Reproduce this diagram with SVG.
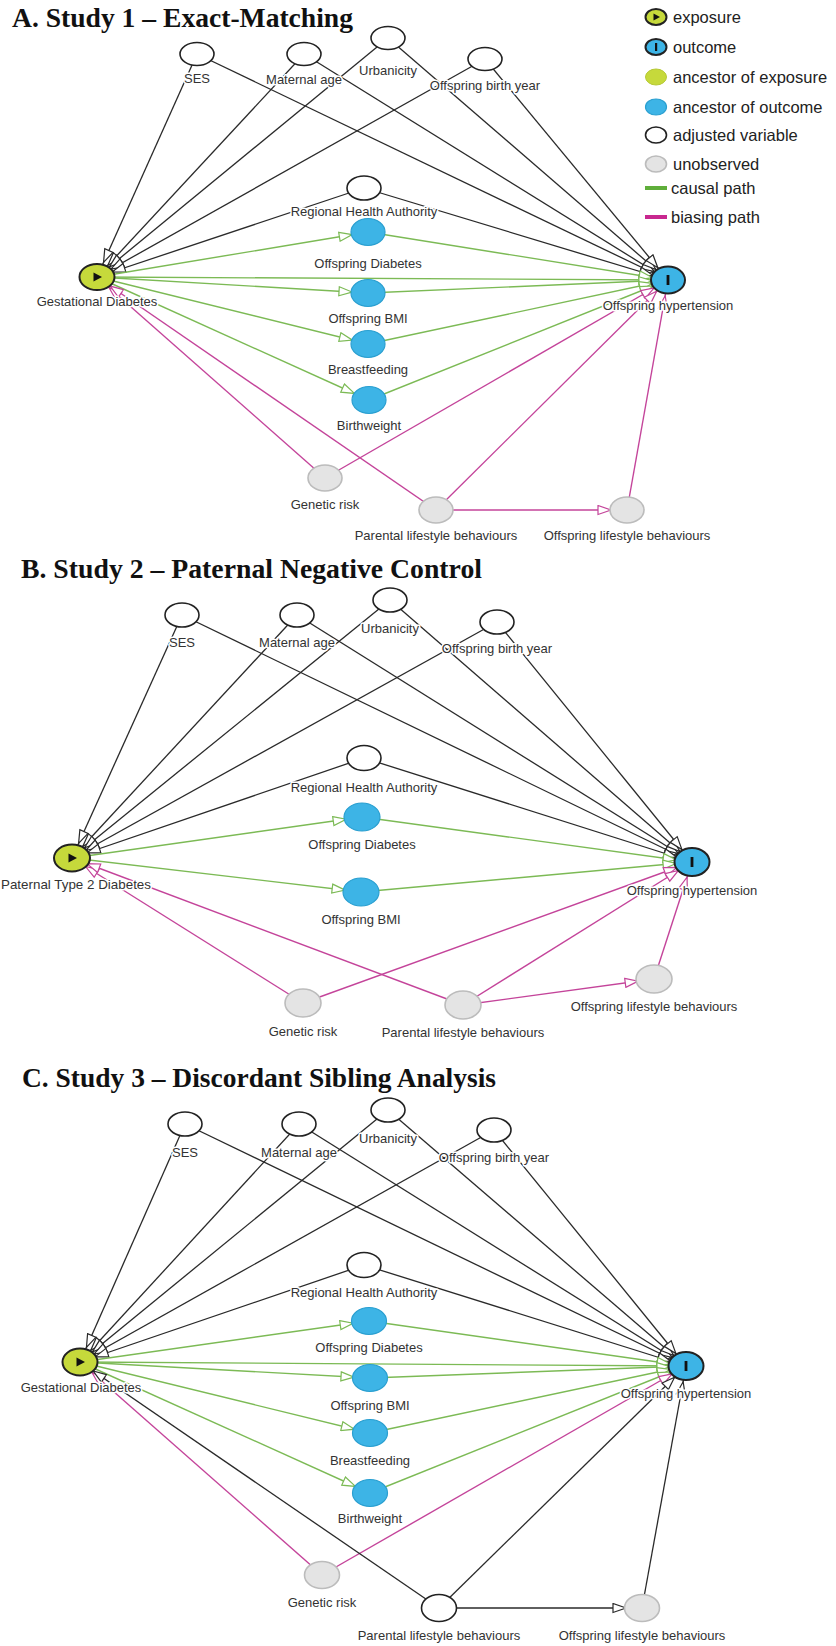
<svg xmlns="http://www.w3.org/2000/svg" width="836" height="1646" viewBox="0 0 836 1646">
<style>
.t{font-family:"Liberation Serif","Times New Roman",serif;font-weight:bold;font-size:27px;fill:#111}
.l{font-family:"Liberation Sans",Arial,sans-serif;font-size:13px;fill:#333;text-anchor:middle;stroke:#fff;stroke-width:3;paint-order:stroke;stroke-linejoin:round}
.lg{font-family:"Liberation Sans",Arial,sans-serif;font-size:16.5px;fill:#222}
.e{stroke:#2a2a2a;stroke-width:1.3;fill:none;marker-end:url(#ab)}
.c{stroke:#7cba55;stroke-width:1.4;fill:none;marker-end:url(#ag)}
.b{stroke:#c4449a;stroke-width:1.4;fill:none;marker-end:url(#ap)}
.adj{fill:#fff;stroke:#222;stroke-width:1.6}
.anc{fill:#3db4e6;stroke:#2a9fd0;stroke-width:1.2}
.uno{fill:#e4e4e4;stroke:#bcbcbc;stroke-width:1.6}
.exp{fill:#c6d93b;stroke:#222;stroke-width:2}
.out{fill:#3db4e6;stroke:#222;stroke-width:2}
</style>
<defs>
<marker id="ab" markerUnits="userSpaceOnUse" markerWidth="32" markerHeight="11" refX="30" refY="5.5" orient="auto"><path d="M1,1 L14,5.5 L1,10 Z" fill="#fff" stroke="#2a2a2a" stroke-width="1.2"/></marker>
<marker id="ag" markerUnits="userSpaceOnUse" markerWidth="32" markerHeight="11" refX="30" refY="5.5" orient="auto"><path d="M1,1 L14,5.5 L1,10 Z" fill="#fff" stroke="#7cba55" stroke-width="1.2"/></marker>
<marker id="ap" markerUnits="userSpaceOnUse" markerWidth="32" markerHeight="11" refX="30" refY="5.5" orient="auto"><path d="M1,1 L14,5.5 L1,10 Z" fill="#fff" stroke="#c4449a" stroke-width="1.2"/></marker>
</defs>
<rect width="836" height="1646" fill="#fff"/>

<!-- Titles -->
<text class="t" x="12" y="27" textLength="341" lengthAdjust="spacingAndGlyphs">A. Study 1 – Exact-Matching</text>
<text class="t" x="21" y="578" textLength="461" lengthAdjust="spacingAndGlyphs">B. Study 2 – Paternal Negative Control</text>
<text class="t" x="22" y="1087" textLength="474" lengthAdjust="spacingAndGlyphs">C. Study 3 – Discordant Sibling Analysis</text>

<!-- Legend -->
<g id="legend">
<ellipse cx="656" cy="17" rx="10.5" ry="8" class="exp" stroke-width="1.6"/><path d="M653.5,13.5 L660,17 L653.5,20.5 Z" fill="#111"/>
<text class="lg" x="673" y="23">exposure</text>
<ellipse cx="656" cy="47" rx="10.5" ry="8" class="out" stroke-width="1.6"/><rect x="655" y="43" width="2.2" height="8" fill="#111"/>
<text class="lg" x="673" y="53">outcome</text>
<ellipse cx="656" cy="77" rx="10.5" ry="8" fill="#c6d93b" stroke="#b6c936" stroke-width="1"/>
<text class="lg" x="673" y="83">ancestor of exposure</text>
<ellipse cx="656" cy="107" rx="10.5" ry="8" class="anc"/>
<text class="lg" x="673" y="113">ancestor of outcome</text>
<ellipse cx="656" cy="135" rx="10.5" ry="8" class="adj" stroke-width="1.3"/>
<text class="lg" x="673" y="141">adjusted variable</text>
<ellipse cx="656" cy="164" rx="10.5" ry="8" class="uno" stroke-width="1.2"/>
<text class="lg" x="673" y="170">unobserved</text>
<line x1="645" y1="188" x2="667" y2="188" stroke="#5fae3a" stroke-width="4"/>
<text class="lg" x="671" y="194">causal path</text>
<line x1="645" y1="217" x2="667" y2="217" stroke="#c8288f" stroke-width="4"/>
<text class="lg" x="671" y="223">biasing path</text>
</g>

<!-- ================= Connectors ================= -->
<g id="connectors">
<!-- Panel A -->
<line class="e" x1="197" y1="54" x2="97" y2="277"/>
<line class="e" x1="197" y1="54" x2="668" y2="280"/>
<line class="e" x1="304" y1="54" x2="97" y2="277"/>
<line class="e" x1="304" y1="54" x2="668" y2="280"/>
<line class="e" x1="388" y1="38" x2="97" y2="277"/>
<line class="e" x1="388" y1="38" x2="668" y2="280"/>
<line class="e" x1="485" y1="59" x2="97" y2="277"/>
<line class="e" x1="485" y1="59" x2="668" y2="280"/>
<line class="e" x1="364" y1="188" x2="97" y2="277"/>
<line class="e" x1="364" y1="188" x2="668" y2="280"/>
<line class="c" x1="97" y1="277" x2="368" y2="232"/>
<line class="c" x1="97" y1="277" x2="368" y2="293"/>
<line class="c" x1="97" y1="277" x2="368" y2="344"/>
<line class="c" x1="97" y1="277" x2="369" y2="400"/>
<line class="c" x1="97" y1="277" x2="668" y2="280"/>
<line class="c" x1="368" y1="232" x2="668" y2="280"/>
<line class="c" x1="368" y1="293" x2="668" y2="280"/>
<line class="c" x1="368" y1="344" x2="668" y2="280"/>
<line class="c" x1="369" y1="400" x2="668" y2="280"/>
<line class="b" x1="325" y1="478" x2="97" y2="277"/>
<line class="b" x1="325" y1="478" x2="668" y2="280"/>
<line class="b" x1="436" y1="510" x2="97" y2="277"/>
<line class="b" x1="436" y1="510" x2="668" y2="280"/>
<line class="b" x1="436" y1="510" x2="627" y2="510"/>
<line class="b" x1="627" y1="510" x2="668" y2="280"/>

<!-- Panel B -->
<line class="e" x1="182" y1="615" x2="72" y2="858"/>
<line class="e" x1="182" y1="615" x2="692" y2="862"/>
<line class="e" x1="297" y1="615" x2="72" y2="858"/>
<line class="e" x1="297" y1="615" x2="692" y2="862"/>
<line class="e" x1="390" y1="600" x2="72" y2="858"/>
<line class="e" x1="390" y1="600" x2="692" y2="862"/>
<line class="e" x1="497" y1="622" x2="72" y2="858"/>
<line class="e" x1="497" y1="622" x2="692" y2="862"/>
<line class="e" x1="364" y1="758" x2="72" y2="858"/>
<line class="e" x1="364" y1="758" x2="692" y2="862"/>
<line class="c" x1="72" y1="858" x2="362" y2="817"/>
<line class="c" x1="72" y1="858" x2="361" y2="892"/>
<line class="c" x1="362" y1="817" x2="692" y2="862"/>
<line class="c" x1="361" y1="892" x2="692" y2="862"/>
<line class="b" x1="303" y1="1003" x2="72" y2="858"/>
<line class="b" x1="303" y1="1003" x2="692" y2="862"/>
<line class="b" x1="463" y1="1005" x2="72" y2="858"/>
<line class="b" x1="463" y1="1005" x2="692" y2="862"/>
<line class="b" x1="463" y1="1005" x2="654" y2="979"/>
<line class="b" x1="654" y1="979" x2="692" y2="862"/>

<!-- Panel C -->
<line class="e" x1="185" y1="1124" x2="80" y2="1362"/>
<line class="e" x1="185" y1="1124" x2="686" y2="1366"/>
<line class="e" x1="299" y1="1124" x2="80" y2="1362"/>
<line class="e" x1="299" y1="1124" x2="686" y2="1366"/>
<line class="e" x1="388" y1="1110" x2="80" y2="1362"/>
<line class="e" x1="388" y1="1110" x2="686" y2="1366"/>
<line class="e" x1="494" y1="1130" x2="80" y2="1362"/>
<line class="e" x1="494" y1="1130" x2="686" y2="1366"/>
<line class="e" x1="364" y1="1265" x2="80" y2="1362"/>
<line class="e" x1="364" y1="1265" x2="686" y2="1366"/>
<line class="c" x1="80" y1="1362" x2="369" y2="1321"/>
<line class="c" x1="80" y1="1362" x2="370" y2="1378"/>
<line class="c" x1="80" y1="1362" x2="370" y2="1433"/>
<line class="c" x1="80" y1="1362" x2="370" y2="1493"/>
<line class="c" x1="80" y1="1362" x2="686" y2="1366"/>
<line class="c" x1="369" y1="1321" x2="686" y2="1366"/>
<line class="c" x1="370" y1="1378" x2="686" y2="1366"/>
<line class="c" x1="370" y1="1433" x2="686" y2="1366"/>
<line class="c" x1="370" y1="1493" x2="686" y2="1366"/>
<line class="b" x1="322" y1="1575" x2="80" y2="1362"/>
<line class="b" x1="322" y1="1575" x2="686" y2="1366"/>
<line class="e" x1="439" y1="1608" x2="80" y2="1362"/>
<line class="e" x1="439" y1="1608" x2="686" y2="1366"/>
<line class="e" x1="439" y1="1608" x2="642" y2="1608"/>
<line class="e" x1="642" y1="1608" x2="686" y2="1366"/>
</g>

<!-- ================= Panel A nodes ================= -->
<g id="a-ses"><ellipse class="adj" cx="197" cy="54" rx="17" ry="11.5"/><text class="l" x="197" y="82.5">SES</text></g>
<g id="a-mage"><ellipse class="adj" cx="304" cy="54" rx="17" ry="11.5"/><text class="l" x="304" y="83.5">Maternal age</text></g>
<g id="a-urb"><ellipse class="adj" cx="388" cy="38" rx="17" ry="11.5"/><text class="l" x="388" y="74.5">Urbanicity</text></g>
<g id="a-oby"><ellipse class="adj" cx="485" cy="59" rx="17" ry="11.5"/><text class="l" x="485" y="89.5">Offspring birth year</text></g>
<g id="a-rha"><ellipse class="adj" cx="364" cy="188" rx="17" ry="12"/><text class="l" x="364" y="215.5">Regional Health Authority</text></g>
<g id="a-od"><ellipse class="anc" cx="368" cy="232" rx="17" ry="13.5"/><text class="l" x="368" y="267.5">Offspring Diabetes</text></g>
<g id="a-obmi"><ellipse class="anc" cx="368" cy="293" rx="17" ry="13.5"/><text class="l" x="368" y="322.5">Offspring BMI</text></g>
<g id="a-bf"><ellipse class="anc" cx="368" cy="344" rx="17" ry="13.5"/><text class="l" x="368" y="373.5">Breastfeeding</text></g>
<g id="a-bw"><ellipse class="anc" cx="369" cy="400" rx="17" ry="13.5"/><text class="l" x="369" y="429.5">Birthweight</text></g>
<g id="a-gr"><ellipse class="uno" cx="325" cy="478" rx="17" ry="13"/><text class="l" x="325" y="508.5">Genetic risk</text></g>
<g id="a-pl"><ellipse class="uno" cx="436" cy="510" rx="17" ry="13"/><text class="l" x="436" y="539.5">Parental lifestyle behaviours</text></g>
<g id="a-ol"><ellipse class="uno" cx="627" cy="510" rx="17" ry="13"/><text class="l" x="627" y="539.5">Offspring lifestyle behaviours</text></g>
<g id="a-exp"><ellipse class="exp" cx="97" cy="277" rx="17.5" ry="13"/><path d="M93.5,272.5 L102,277 L93.5,281.5 Z" fill="#111"/><text class="l" x="97" y="305.5">Gestational Diabetes</text></g>
<g id="a-out"><ellipse class="out" cx="668" cy="280" rx="17" ry="13.5"/><rect x="666.6" y="275" width="2.8" height="10" fill="#111"/><text class="l" x="668" y="309.5">Offspring hypertension</text></g>

<!-- ================= Panel B nodes ================= -->
<g id="b-ses"><ellipse class="adj" cx="182" cy="615" rx="17" ry="12"/><text class="l" x="182" y="646.5">SES</text></g>
<g id="b-mage"><ellipse class="adj" cx="297" cy="615" rx="17" ry="12"/><text class="l" x="297" y="646.5">Maternal age</text></g>
<g id="b-urb"><ellipse class="adj" cx="390" cy="600" rx="17" ry="12"/><text class="l" x="390" y="632.5">Urbanicity</text></g>
<g id="b-oby"><ellipse class="adj" cx="497" cy="622" rx="17" ry="12"/><text class="l" x="497" y="652.5">Offspring birth year</text></g>
<g id="b-rha"><ellipse class="adj" cx="364" cy="758" rx="17" ry="12.5"/><text class="l" x="364" y="791.5">Regional Health Authority</text></g>
<g id="b-od"><ellipse class="anc" cx="362" cy="817" rx="18" ry="14"/><text class="l" x="362" y="848.5">Offspring Diabetes</text></g>
<g id="b-obmi"><ellipse class="anc" cx="361" cy="892" rx="18" ry="14"/><text class="l" x="361" y="923.5">Offspring BMI</text></g>
<g id="b-gr"><ellipse class="uno" cx="303" cy="1003" rx="18" ry="14"/><text class="l" x="303" y="1035.5">Genetic risk</text></g>
<g id="b-pl"><ellipse class="uno" cx="463" cy="1005" rx="18" ry="14"/><text class="l" x="463" y="1036.5">Parental lifestyle behaviours</text></g>
<g id="b-ol"><ellipse class="uno" cx="654" cy="979" rx="18" ry="14"/><text class="l" x="654" y="1010.5">Offspring lifestyle behaviours</text></g>
<g id="b-exp"><ellipse class="exp" cx="72" cy="858" rx="18" ry="13.5"/><path d="M68.5,853.5 L77,858 L68.5,862.5 Z" fill="#111"/><text class="l" x="1" y="888.5" style="text-anchor:start" textLength="150" lengthAdjust="spacingAndGlyphs">Paternal Type 2 Diabetes</text></g>
<g id="b-out"><ellipse class="out" cx="692" cy="862" rx="17.5" ry="14"/><rect x="690.6" y="857" width="2.8" height="10" fill="#111"/><text class="l" x="692" y="894.5">Offspring hypertension</text></g>

<!-- ================= Panel C nodes ================= -->
<g id="c-ses"><ellipse class="adj" cx="185" cy="1124" rx="17" ry="12"/><text class="l" x="185" y="1156.5">SES</text></g>
<g id="c-mage"><ellipse class="adj" cx="299" cy="1124" rx="17" ry="12"/><text class="l" x="299" y="1156.5">Maternal age</text></g>
<g id="c-urb"><ellipse class="adj" cx="388" cy="1110" rx="17" ry="12"/><text class="l" x="388" y="1142.5">Urbanicity</text></g>
<g id="c-oby"><ellipse class="adj" cx="494" cy="1130" rx="17" ry="12"/><text class="l" x="494" y="1161.5">Offspring birth year</text></g>
<g id="c-rha"><ellipse class="adj" cx="364" cy="1265" rx="17" ry="12.5"/><text class="l" x="364" y="1296.5">Regional Health Authority</text></g>
<g id="c-od"><ellipse class="anc" cx="369" cy="1321" rx="17.5" ry="13.5"/><text class="l" x="369" y="1351.5">Offspring Diabetes</text></g>
<g id="c-obmi"><ellipse class="anc" cx="370" cy="1378" rx="17.5" ry="13.5"/><text class="l" x="370" y="1409.5">Offspring BMI</text></g>
<g id="c-bf"><ellipse class="anc" cx="370" cy="1433" rx="17.5" ry="13.5"/><text class="l" x="370" y="1464.5">Breastfeeding</text></g>
<g id="c-bw"><ellipse class="anc" cx="370" cy="1493" rx="17.5" ry="13.5"/><text class="l" x="370" y="1522.5">Birthweight</text></g>
<g id="c-gr"><ellipse class="uno" cx="322" cy="1575" rx="17.5" ry="13.5"/><text class="l" x="322" y="1606.5">Genetic risk</text></g>
<g id="c-pl"><ellipse class="adj" cx="439" cy="1608" rx="17.5" ry="13.5"/><text class="l" x="439" y="1639.5">Parental lifestyle behaviours</text></g>
<g id="c-ol"><ellipse class="uno" cx="642" cy="1608" rx="17.5" ry="13.5"/><text class="l" x="642" y="1639.5">Offspring lifestyle behaviours</text></g>
<g id="c-exp"><ellipse class="exp" cx="80" cy="1362" rx="17.5" ry="13.5"/><path d="M76.5,1357.5 L85,1362 L76.5,1366.5 Z" fill="#111"/><text class="l" x="81" y="1391.5">Gestational Diabetes</text></g>
<g id="c-out"><ellipse class="out" cx="686" cy="1366" rx="17.5" ry="14"/><rect x="684.6" y="1361" width="2.8" height="10" fill="#111"/><text class="l" x="686" y="1397.5">Offspring hypertension</text></g>
</svg>
